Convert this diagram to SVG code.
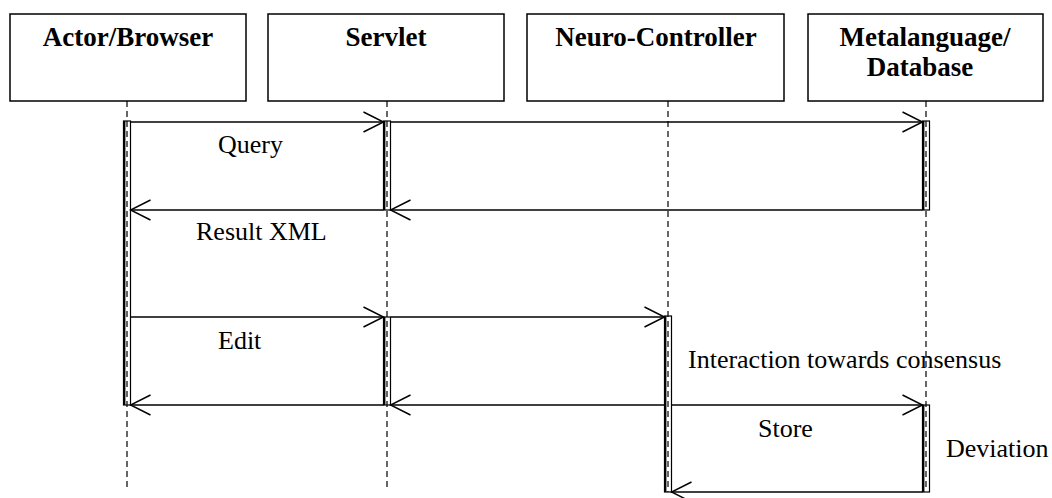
<svg xmlns="http://www.w3.org/2000/svg" width="1052" height="498" viewBox="0 0 1052 498">
<style>
.box{fill:#fff;stroke:#000;stroke-width:1.5}
.hd{font-family:"Liberation Serif",serif;font-weight:bold;font-size:27px;text-anchor:middle;fill:#000}
.lbl{font-family:"Liberation Serif",serif;font-size:26px;fill:#000}
.life{stroke:#000;stroke-width:1.2;stroke-dasharray:6 4;fill:none}
.bar{fill:#fff;stroke:#000;stroke-width:1.2}
.barl{stroke:#000;stroke-width:2.4}
.msg{stroke:#000;stroke-width:1.4;fill:none;marker-end:url(#ah)}
</style>
<defs>
<marker id="ah" markerUnits="userSpaceOnUse" markerWidth="24" markerHeight="24" viewBox="-22 -12 24 24" refX="0" refY="0" orient="auto">
<path d="M-20,-10 L0,0 L-20,10" fill="none" stroke="#000" stroke-width="1.4"/>
</marker>
</defs>
<rect width="1052" height="498" fill="#fff"/>
<g id="actor">
<rect class="box" x="10" y="14" width="236" height="87"/>
<text class="hd" x="128" y="46">Actor/Browser</text>
</g>
<g id="servlet">
<rect class="box" x="268" y="14" width="236" height="87"/>
<text class="hd" x="386" y="46">Servlet</text>
</g>
<g id="neuro">
<rect class="box" x="527" y="14" width="257" height="87"/>
<text class="hd" x="656" y="46">Neuro-Controller</text>
</g>
<g id="database">
<rect class="box" x="808" y="14" width="235" height="87"/>
<text class="hd" x="925" y="46">Metalanguage/</text>
<text class="hd" x="920" y="76">Database</text>
</g>
<g id="lifelines">
<rect class="bar" x="123.5" y="121" width="7" height="284"/>
<line class="barl" x1="124.2" y1="121" x2="124.2" y2="405"/>
<rect class="bar" x="383.5" y="121" width="7" height="89"/>
<line class="barl" x1="384.2" y1="121" x2="384.2" y2="210"/>
<rect class="bar" x="383.5" y="317" width="7" height="88"/>
<line class="barl" x1="384.2" y1="317" x2="384.2" y2="405"/>
<rect class="bar" x="664.5" y="316" width="7" height="176"/>
<line class="barl" x1="665.2" y1="316" x2="665.2" y2="492"/>
<rect class="bar" x="922.5" y="121" width="7" height="89"/>
<line class="barl" x1="923.2" y1="121" x2="923.2" y2="210"/>
<rect class="bar" x="922.5" y="405" width="7" height="87"/>
<line class="barl" x1="923.2" y1="405" x2="923.2" y2="492"/>
<line class="life" x1="127" y1="101" x2="127" y2="490"/>
<line class="life" x1="387" y1="101" x2="387" y2="490"/>
<line class="life" x1="668" y1="101" x2="668" y2="492"/>
<line class="life" x1="926" y1="101" x2="926" y2="490"/>
</g>
<g id="connectors">
<line class="msg" x1="130.5" y1="122" x2="383.5" y2="122"/>
<line class="msg" x1="390.5" y1="122" x2="922.5" y2="122"/>
<line class="msg" x1="922.5" y1="210" x2="390.5" y2="210"/>
<line class="msg" x1="383.5" y1="210" x2="130.5" y2="210"/>
<line class="msg" x1="130.5" y1="317" x2="383.5" y2="317"/>
<line class="msg" x1="390.5" y1="317" x2="664.5" y2="317"/>
<line class="msg" x1="664.5" y1="405" x2="390.5" y2="405"/>
<line class="msg" x1="383.5" y1="405" x2="130.5" y2="405"/>
<line class="msg" x1="671.5" y1="405" x2="922.5" y2="405"/>
<line class="msg" x1="922.5" y1="492" x2="671.5" y2="492"/>
</g>
<g id="labels">
<text class="lbl" x="218" y="153">Query</text>
<text class="lbl" x="196" y="240">Result XML</text>
<text class="lbl" x="218" y="349">Edit</text>
<text class="lbl" x="688" y="368">Interaction towards consensus</text>
<text class="lbl" x="758" y="437">Store</text>
<text class="lbl" x="946" y="457">Deviation</text>
</g>
</svg>
